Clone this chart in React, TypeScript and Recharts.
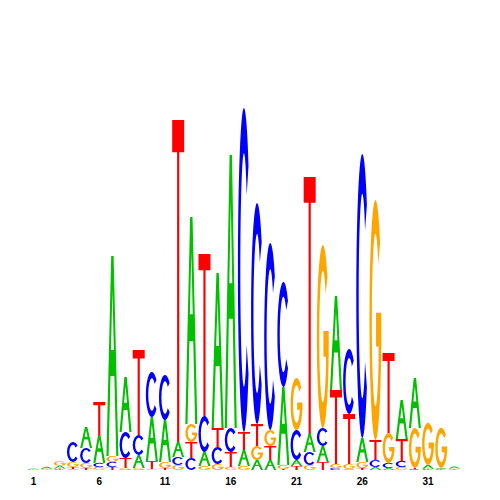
import { BarChart, Bar, XAxis, YAxis } from 'recharts'

// sequence logo, 33 positions, letter heights in bits
const positions = Array.from({ length: 33 }, (_, i) => String(i + 1))

const bitsA = [0.004, 0.01, 0.013, 0.005, 0.105, 0.14, 1.0, 0.275, 0.065, 0.22, 0.21, 0.075, 1.035, 0.07, 0.775, 1.365, 0.08, 0.05, 0.05, 0.39, 0.03, 0.09, 0.08, 0.47, 0.005, 0.12, 0.015, 0.01, 0.195, 0.25, 0.02, 0.005, 0.01]
const bitsC = [0.001, 0.002, 0.003, 0.1, 0.075, 0.02, 0.025, 0.13, 0.1, 0.225, 0.225, 0.04, 0.06, 0.18, 0.085, 0.12, 1.62, 1.105, 0.935, 0.525, 0.15, 0.065, 0.09, 0.01, 0.325, 1.42, 0.035, 0.025, 0.03, 0.005, 0.003, 0.003, 0.002]
const bitsG = [0.001, 0.003, 0.023, 0.025, 0.025, 0.015, 0.03, 0.01, 0.01, 0.005, 0.03, 0.025, 0.09, 0.02, 0.03, 0.015, 0.02, 0.07, 0.08, 0.02, 0.26, 0.025, 0.915, 0.02, 0.025, 0.03, 1.2, 0.15, 0.015, 0.2, 0.21, 0.2, 0.003]
const bitsT = [0.001, 0.001, 0.005, 0.01, 0.01, 0.165, 0.015, 0.05, 0.425, 0.04, 0.01, 1.61, 0.08, 0.81, 0.095, 0.075, 0.09, 0.11, 0.07, 0.005, 0.02, 1.285, 0.04, 0.37, 0.25, 0.01, 0.1, 0.4, 0.11, 0.005, 0.003, 0.003, 0.002]

const COLORS: Record<string, string> = { A: '#00c000', C: '#0000ff', G: '#ffa500', T: '#ff0000' }

// glyph outlines in a 100x100 box
const GLYPHS: Record<string, string> = {
  A: 'M0 100 L40 0 L60 0 L100 100 L82 100 L66 60 L34 60 L18 100 Z M38 47 L62 47 L50 17 Z',
  C: 'M88.3 17.9 A50 50 0 1 0 88.3 82.1 L73 73.1 A30 36 0 1 1 73 26.9 Z',
  G: 'M88.3 17.9 A50 50 0 1 0 99 60 L99 47 L55 47 L55 61 L76 61 L76 68 A30 36 0 1 1 73 26.9 Z',
  T: 'M0 0 L100 0 L100 10 L59 10 L59 100 L41 100 L41 10 L0 10 Z',
}

// each row: letters sorted so the smallest sits at the bottom
const data = positions.map((pos, i) => {
  const letters = [
    { l: 'A', v: bitsA[i] },
    { l: 'C', v: bitsC[i] },
    { l: 'G', v: bitsG[i] },
    { l: 'T', v: bitsT[i] },
  ].sort((a, b) => a.v - b.v)
  const row: any = { pos }
  letters.forEach((d, r) => {
    row['r' + r] = d.v
    row['l' + r] = d.l
  })
  return row
})

const makeShape = (rank: number) => (props: any) => {
  const { x, y, width, height, payload } = props
  const letter = payload['l' + rank]
  if (!height || height <= 0) return <g />
  return (
    <path
      d={GLYPHS[letter]}
      fill={COLORS[letter]}
      fillRule="evenodd"
      transform={`translate(${x},${y}) scale(${width / 100},${height / 100})`}
    />
  )
}

export default function App() {
  return (
    <div style={{ position: 'absolute', left: 0, top: 0, width: 500, height: 500, background: '#fff' }}>
      <BarChart
        width={500}
        height={500}
        data={data}
        margin={{ top: 70, right: 39, bottom: 10, left: 27 }}
        barCategoryGap={0.5}
      >
        <XAxis
          dataKey="pos"
          interval={4}
          height={20}
          tickLine={false}
          axisLine={false}
          tick={{ fill: '#000', fontSize: 10, fontWeight: 'bold', fontFamily: 'Liberation Sans, Arial, sans-serif' }}
        />
        <YAxis hide domain={[0, 2]} />
        {[0, 1, 2, 3].map((r) => (
          <Bar key={r} dataKey={'r' + r} stackId="logo" isAnimationActive={false} shape={makeShape(r)} />
        ))}
      </BarChart>
    </div>
  )
}
